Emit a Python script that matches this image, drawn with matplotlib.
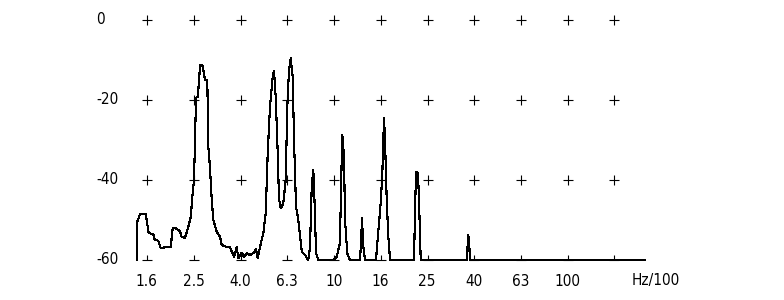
import numpy as np
import matplotlib.pyplot as plt
from matplotlib.path import Path
from matplotlib.transforms import blended_transform_factory

# Spectrum trace: frequency in Hz/100, level in dB
freq = [1.427, 1.435, 1.474, 1.560, 1.606, 1.681, 1.697, 1.766, 1.808, 1.886,
        1.995, 2.035, 2.102, 2.187, 2.224, 2.298, 2.374, 2.431, 2.470, 2.511,
        2.561, 2.604, 2.638, 2.664, 2.726, 2.752, 2.798, 2.846, 2.863, 2.892,
        2.940, 2.990, 3.038, 3.141, 3.245, 3.300, 3.443, 3.581, 3.725, 3.826,
        3.886, 4.019, 4.111, 4.222, 4.361, 4.506, 4.627, 4.706, 4.814, 4.973,
        5.092, 5.193, 5.311, 5.455, 5.525, 5.618, 5.708, 5.804, 5.902, 6.056,
        6.200, 6.299, 6.406, 6.516, 6.645, 6.731, 6.866, 7.023, 7.263, 7.502,
        7.750, 7.881, 8.015, 8.141, 8.255, 8.362, 8.553, 9.917, 10.25, 10.59,
        10.70, 10.84, 11.02, 11.13, 11.38, 11.69, 12.90, 13.03, 13.16, 13.33,
        13.56, 15.11, 15.30, 15.61, 15.87, 16.08, 16.24, 16.35, 16.51, 16.68,
        16.79, 17.06, 17.35, 21.98, 22.20, 22.42, 22.86, 23.15, 23.48, 36.96,
        37.33, 37.54, 37.92, 38.18, 214.5]
level = [-60, -50.4, -48.6, -48.6, -53.25, -53.6, -54.8, -55.2, -57.1, -56.8,
         -56.75, -52.1, -52.1, -52.75, -54.3, -54.4, -51.7, -49.2, -44.2, -40,
         -19.5, -19.2, -15.4, -11.25, -11.25, -12.5, -15, -15, -15.4, -31.7,
         -37, -45, -50, -52.9, -54.2, -56.25, -56.7, -56.8, -59.2, -56.7,
         -59.6, -58.2, -59.2, -58.3, -58.75, -58.3, -57.3, -59.6, -56.7, -53.3,
         -48.3, -33.3, -21.7, -14.2, -12.75, -19.2, -30, -44.6, -47.1, -45.8,
         -40, -21.7, -12.5, -9.6, -14.2, -30, -46.7, -50, -57.9, -58.75,
         -60, -56.7, -41.7, -37.5, -46.7, -58.3, -60, -60, -59.2, -55.8,
         -41.7, -28.75, -34.2, -50, -58.3, -60, -60, -55.8, -49.6, -56.7,
         -60, -60, -55.8, -50, -44.6, -38.3, -30, -24.6, -30, -39.2,
         -45, -54.2, -60, -60, -47.5, -37.9, -38.3, -47.5, -60, -60,
         -55.8, -53.75, -56.7, -60, -60]

tick_labels = ['1.6', '2.5', '4.0', '6.3', '10', '16', '25', '40', '63', '100']
level_ticks = [0, -20, -40, -60]
level_labels = ['0', '-20', '-40', '-60']
unit_label = 'Hz/100'

grid_freq = 10 ** (0.2 * np.arange(1, 12))

fig = plt.figure(figsize=(7.84, 3.0), dpi=100)
ax = fig.add_axes([136 / 784, 40 / 300, 510 / 784, 240 / 300])
ax.set_xscale('log')
ax.set_xlim(1.417, 216.5)
ax.set_ylim(-60, 0)
ax.axis('off')

ax.plot(freq, level, color='black', lw=0.8, antialiased=False, clip_on=False)

# "+" grid marks, upside-down T on the bottom row
for db in level_ticks[:-1]:
    ax.plot(grid_freq, [db] * len(grid_freq), ls='none', marker='+',
            ms=7.5, mew=0.8, color='black', clip_on=False, antialiased=False)
tee = Path([(-1, 0), (1, 0), (0, 0), (0, 1)],
           [Path.MOVETO, Path.LINETO, Path.MOVETO, Path.LINETO])
ax.plot(grid_freq, [level_ticks[-1]] * len(grid_freq), ls='none', marker=tee,
        ms=7.5, mew=0.8, color='black', clip_on=False, antialiased=False)

font = dict(family='DejaVu Sans', stretch='condensed', size=11,
            color='black')

ytrans = blended_transform_factory(fig.transFigure, ax.transData)
for db, lab in zip(level_ticks, level_labels):
    ax.text(96 / 784, db, lab, transform=ytrans, ha='left', va='center', **font)

xtrans = blended_transform_factory(ax.transData, fig.transFigure)
for f, lab in zip(grid_freq, tick_labels):
    ax.text(f * 0.995, 1 - 281 / 300, lab, transform=xtrans,
            ha='center', va='center', **font)
ax.text(632 / 784, 1 - 281 / 300, unit_label, transform=fig.transFigure,
        ha='left', va='center', **font)

fig.savefig('out.png', dpi=100)
